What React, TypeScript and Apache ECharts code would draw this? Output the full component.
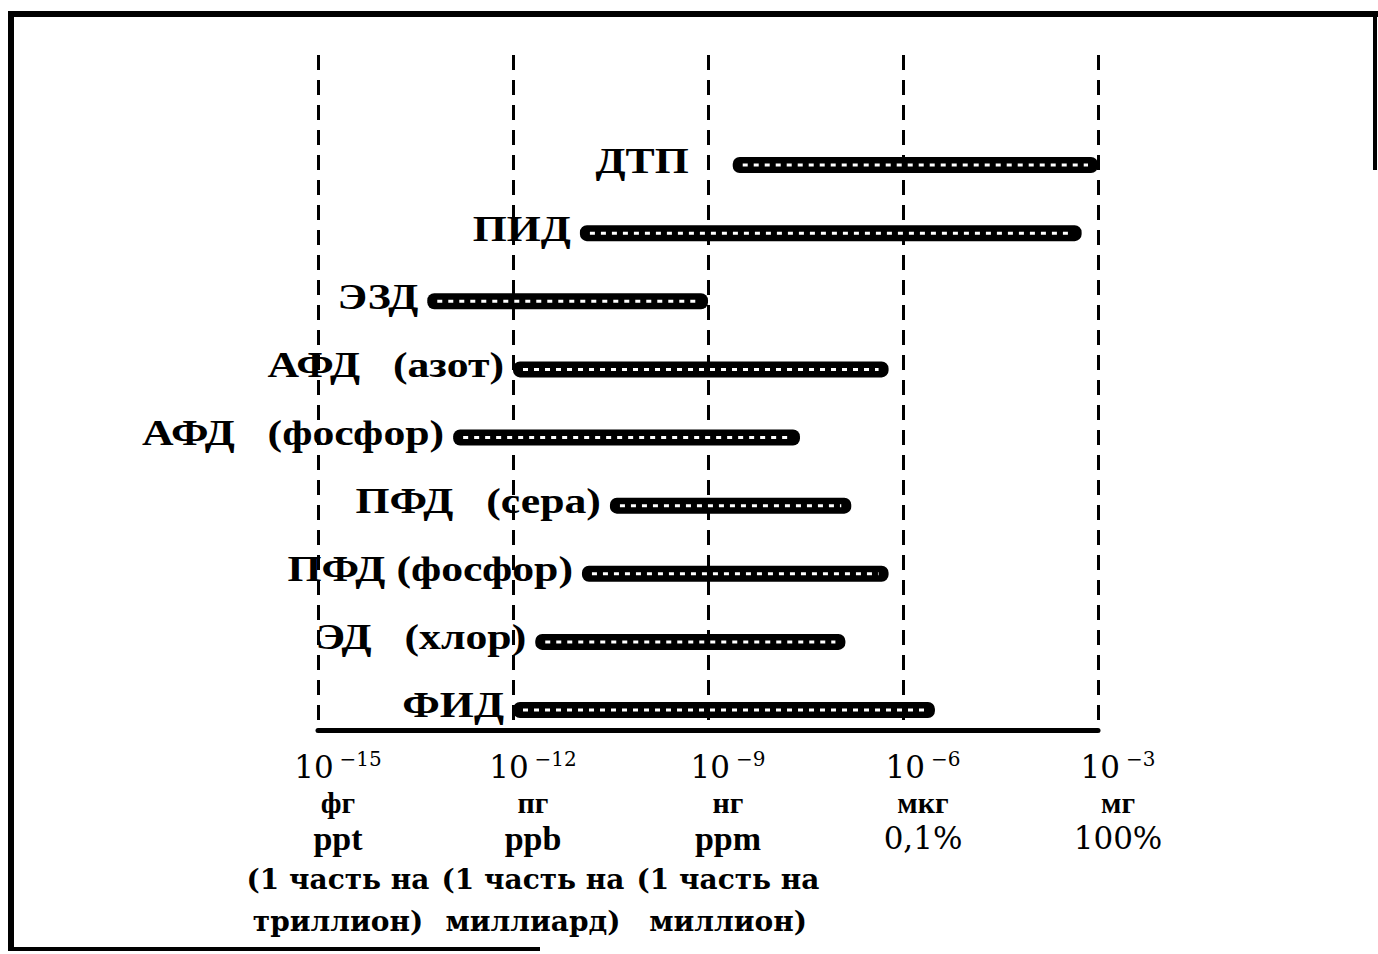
import React, { useEffect, useRef } from "react";
import * as echarts from "echarts";

// Detectors, listed bottom to top
const DETECTORS = [
  "ФИД",
  "ЭД   (хлор)",
  "ПФД (фосфор)",
  "ПФД   (сера)",
  "АФД   (фосфор)",
  "АФД   (азот)",
  "ЭЗД",
  "ПИД",
  "ДТП",
];
// Lower and upper detection limits, g
const RANGE_MIN = [1.0e-12, 2.2e-12, 1.15e-11, 3.1e-11, 1.2e-13, 1.0e-12, 4.8e-14, 1.07e-11, 2.4e-9];
const RANGE_MAX = [3.1e-6, 1.3e-7, 6.0e-7, 1.6e-7, 2.6e-8, 6.0e-7, 1.0e-9, 5.6e-4, 1.0e-3];

// Tick labels
const TICK_EXP = [-15, -12, -9, -6, -3];
const TICK_MASS = ["фг", "пг", "нг", "мкг", "мг"];
const TICK_CONC = ["ppt", "ppb", "ppm", "0,1%", "100%"];
const TICK_NOTE1 = ["(1 часть на", "(1 часть на", "(1 часть на", "", ""];
const TICK_NOTE2 = ["триллион)", "миллиард)", "миллион)", "", ""];

const LABEL_GAP: Record<string, number> = { "ДТП": 44 };

const SERIF = "'Liberation Serif', 'DejaVu Serif', serif";
const WIDE_SERIF = "'DejaVu Serif', serif";

export default function App() {
  const ref = useRef<HTMLDivElement>(null);
  useEffect(() => {
    document.body.style.margin = "0";
    const chart = echarts.init(ref.current!, null, { renderer: "svg" });
    const data = DETECTORS.map((_, i) => [RANGE_MIN[i], RANGE_MAX[i], i]);
    const option: any = {
      animation: false,
      backgroundColor: "#fff",
      grid: { left: 318, right: 280, top: 55, bottom: 224 },
      xAxis: {
        type: "log",
        logBase: 1000,
        min: 1e-15,
        max: 1e-3,
        axisLine: { show: true, onZero: false, lineStyle: { color: "#000", width: 5 } },
        axisTick: { show: false },
        splitLine: { show: true, lineStyle: { color: "#000", width: 3, type: [15, 10] } },
        axisLabel: {
          margin: 18,
          padding: [0, 0, 0, 40],
          color: "#000",
          fontFamily: SERIF,
          formatter: (v: number) => {
            const e = Math.round(Math.log10(v));
            const i = TICK_EXP.indexOf(e);
            if (i < 0) return "";
            const concStyle = TICK_CONC[i].includes("%") ? "pct" : "conc";
            const lines = [
              `{base|10}{sup|−${Math.abs(e)}}`,
              `{mass|${TICK_MASS[i]}}`,
              `{${concStyle}|${TICK_CONC[i]}}`,
            ];
            if (TICK_NOTE1[i]) {
              lines.push(`{note|${TICK_NOTE1[i]}}`);
              lines.push(`{note|${TICK_NOTE2[i]}}`);
            }
            return lines.join("\n");
          },
          rich: {
            base: { fontFamily: WIDE_SERIF, fontSize: 31, lineHeight: 38, color: "#000" },
            sup: { fontFamily: WIDE_SERIF, fontSize: 20, lineHeight: 38, color: "#000", padding: [0, 0, 16, 6] },
            mass: { fontFamily: SERIF, fontSize: 30, fontWeight: "bold", lineHeight: 32, color: "#000" },
            conc: { fontFamily: SERIF, fontSize: 34, fontWeight: "bold", lineHeight: 40, color: "#000" },
            pct: { fontFamily: WIDE_SERIF, fontSize: 31, lineHeight: 40, color: "#000" },
            note: { fontFamily: WIDE_SERIF, fontSize: 28, fontWeight: "bold", lineHeight: 42, color: "#000" },
          },
        },
      },
      yAxis: {
        type: "value",
        min: -0.2936,
        max: 9.615,
        show: false,
        splitLine: { show: false },
      },
      series: [
        {
          type: "custom",
          data,
          encode: { x: [0, 1], y: 2 },
          renderItem: (params: any, api: any) => {
            const idx = api.value(2);
            const p0 = api.coord([api.value(0), idx]);
            const p1 = api.coord([api.value(1), idx]);
            const h = 16;
            const name = DETECTORS[params.dataIndex];
            const gap = LABEL_GAP[name] ?? 9;
            return {
              type: "group",
              children: [
                {
                  type: "rect",
                  shape: { x: p0[0], y: p0[1] - h / 2, width: p1[0] - p0[0], height: h, r: 7 },
                  style: { fill: "#000" },
                },
                {
                  type: "line",
                  shape: { x1: p0[0] + 10, y1: p0[1], x2: p1[0] - 10, y2: p1[1] },
                  style: { stroke: "#fff", lineWidth: 3, lineDash: [5, 6] },
                },
                {
                  type: "text",
                  x: p0[0] - gap,
                  y: p0[1] - 4,
                  scaleX: 1.25,
                  style: {
                    text: name,
                    x: 0,
                    y: 0,
                    align: "right",
                    verticalAlign: "middle",
                    fill: "#000",
                    font: `bold 35px ${SERIF}`,
                  },
                },
              ],
            };
          },
        },
      ],
      graphic: [
        { type: "line", shape: { x1: 8, y1: 14, x2: 1378, y2: 14 }, style: { stroke: "#000", lineWidth: 6 } },
        { type: "line", shape: { x1: 11, y1: 12, x2: 11, y2: 951 }, style: { stroke: "#000", lineWidth: 6 } },
        { type: "line", shape: { x1: 8, y1: 949, x2: 540, y2: 949 }, style: { stroke: "#000", lineWidth: 4 } },
        { type: "line", shape: { x1: 1375, y1: 12, x2: 1375, y2: 170 }, style: { stroke: "#000", lineWidth: 4 } },
      ],
    };
    chart.setOption(option);
    return () => chart.dispose();
  }, []);
  return <div ref={ref} style={{ width: 1378, height: 954 }} />;
}
